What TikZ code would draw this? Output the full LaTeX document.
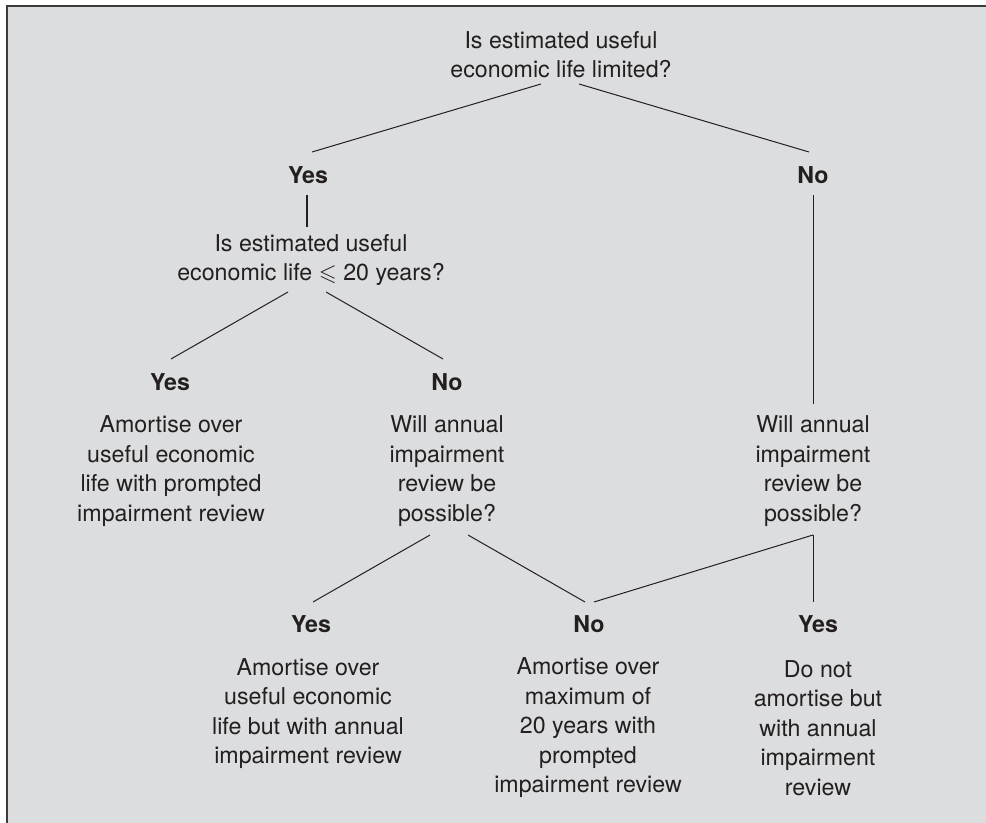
\documentclass[tikz,border=0pt]{standalone}
\usepackage{amssymb}
\usepackage{fontspec}
\setmainfont{TeX Gyre Heros}
\usetikzlibrary{calc}
\definecolor{PanelGrey}{HTML}{DCDDDF}
\definecolor{InkDark}{HTML}{231F20}
\definecolor{FrameGrey}{HTML}{3C3C3C}

\begin{document}
\begin{tikzpicture}[x=0.75pt,y=-0.75pt,
  qtext/.style={align=center,inner sep=0pt,text=InkDark,font=\fontsize{17.4}{22.1}\selectfont},
  ans/.style={inner sep=0pt,text=InkDark,font=\fontsize{17.4}{20}\selectfont\bfseries},
  link/.style={InkDark,line width=0.75pt}]
\useasboundingbox (0,0) rectangle (986,823);
\fill[PanelGrey] (7,6) rectangle (986,823);
\draw[FrameGrey,line width=1.5pt] (7,823) -- (7,6) -- (986,6);

% questions
\node[qtext] (q1) at (561,54.5) {Is estimated useful\\economic life limited?};
\node[qtext] (q2) at (311,260) {Is estimated useful\\economic life $\leqslant$ 20 years?};
\node[qtext] (q3) at (447,471) {Will annual\\impairment\\review be\\possible?};
\node[qtext] (q4) at (813,471) {Will annual\\impairment\\review be\\possible?};

% answers
\node[ans] (yes1) at (308,175) {Yes};
\node[ans] (no1) at (813,175) {No};
\node[ans] (yes2) at (170,382) {Yes};
\node[ans] (no2) at (447,382) {No};
\node[ans] (yes3) at (311,624) {Yes};
\node[ans] (no3) at (589,624) {No};
\node[ans] (yes4) at (818,624) {Yes};

% outcomes
\node[qtext] (a1) at (171,471) {Amortise over\\useful economic\\life with prompted\\impairment review};
\node[qtext] (a2) at (308,713.5) {Amortise over\\useful economic\\life but with annual\\impairment review};
\node[qtext] (a3) at (588,728) {Amortise over\\maximum of\\20 years with\\prompted\\impairment review};
\node[qtext] (a4) at (818,728) {Do not\\amortise but\\with annual\\impairment\\review};

% branches
\draw[link] ($(q1)+(-20,29.5)$) -- ($(yes1)+(4,-23)$);
\draw[link] ($(q1)+(18,29.5)$) -- ($(no1)+(-4,-23)$);
\draw[link,line width=1.9pt] ($(yes1)+(-1,20)$) -- ($(q2)+(-4,-33)$);
\draw[link] ($(no1)+(0,20)$) -- ($(q4)+(0,-67)$);
\draw[link] ($(q2)+(-23,32)$) -- ($(yes2)+(1,-23)$);
\draw[link] ($(q2)+(15,32)$) -- ($(no2)+(-4,-23)$);
\draw[link] ($(q3)+(-17,64)$) -- ($(yes3)+(2,-22)$);
\draw[link] ($(q3)+(21,64)$) -- ($(no3)+(-4,-22)$);
\draw[link] ($(q4)+(0,64)$) -- ($(no3)+(5,-22)$);
\draw[link] ($(q4)+(0,64)$) -- ($(yes4)+(-5,-22)$);
\end{tikzpicture}
\end{document}
